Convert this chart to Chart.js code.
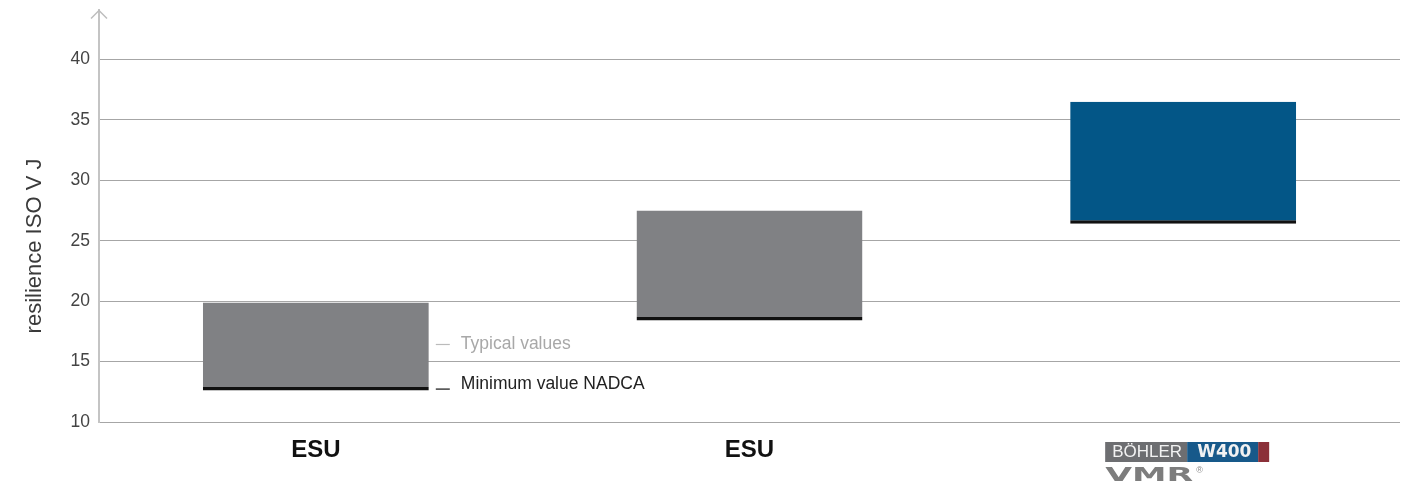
<!DOCTYPE html>
<html lang="en">

<head>
    <meta charset="UTF-8" />
    <title>Resilience ISO V</title>
    <script src="https://cdn.jsdelivr.net/npm/chart.js"></script>
    <style>
        html, body { margin: 0; padding: 0; background: #fff; overflow: hidden; }
        .chart-box { width: 1410px; height: 488px; position: absolute; left: 0; top: 0; }
    </style>
</head>

<body>
    <div class="chart-box">
        <canvas id="resilienceChart"></canvas>
    </div>

    <script>
        // Kerbschlagarbeit je Werkstoff: typischer Bereich, Unterkante = NADCA-Minimum
        const categories = ['ESU', 'ESU', 'BÖHLER W400 VMR'];
        const minValues = [12.6, 18.4, 26.4];
        const typicalTop = [19.9, 27.5, 36.5];
        const yTicks = [10, 15, 20, 25, 30, 35, 40];
        const barColors = ['#808184', '#808184', '#035687'];

        const yTitle = 'resilience ISO V J';
        const legendTypical = 'Typical values';
        const legendMin = 'Minimum value NADCA';

        const ranges = minValues.map((v, i) => [v, typicalTop[i]]);

        const FONT = '"Liberation Sans", Arial, sans-serif';

        // Pfeilspitze oben an der y-Achse + Achsentitel
        const axisDeco = {
            id: 'axisDeco',
            afterDraw(chart) {
                const { ctx, chartArea } = chart;
                const x = chartArea.left;
                const top = chartArea.top;
                ctx.save();
                ctx.strokeStyle = '#bdbdbd';
                ctx.lineWidth = 1.5;
                ctx.beginPath();
                ctx.moveTo(x - 8, top + 8.5);
                ctx.lineTo(x, top + 0.5);
                ctx.lineTo(x + 8, top + 8.5);
                ctx.stroke();

                ctx.translate(35, 246);
                ctx.rotate(-Math.PI / 2);
                ctx.fillStyle = '#3a3a3a';
                ctx.font = '22px ' + FONT;
                ctx.textAlign = 'center';
                ctx.textBaseline = 'middle';
                ctx.fillText(yTitle, 0, 0);
                ctx.restore();
            }
        };

        // Legende rechts neben dem ersten Balken
        const sideLegend = {
            id: 'sideLegend',
            afterDatasetsDraw(chart) {
                const bar = chart.getDatasetMeta(0).data[0];
                if (!bar) return;
                const { ctx } = chart;
                const right = bar.x + bar.width / 2;
                const mid = (bar.y + bar.base) / 2;
                const low = bar.base - 1.5;
                ctx.save();
                ctx.font = '17.5px ' + FONT;
                ctx.textBaseline = 'middle';
                ctx.lineWidth = 1.2;

                ctx.strokeStyle = '#bbbbbb';
                ctx.beginPath();
                ctx.moveTo(right + 7, mid - 2);
                ctx.lineTo(right + 21, mid - 2);
                ctx.stroke();
                ctx.fillStyle = '#a8a8a8';
                ctx.fillText(legendTypical, right + 32, mid - 2);

                ctx.strokeStyle = '#111';
                ctx.beginPath();
                ctx.moveTo(right + 7, low);
                ctx.lineTo(right + 21, low);
                ctx.stroke();
                ctx.fillStyle = '#222';
                ctx.fillText(legendMin, right + 32, low - 5);
                ctx.restore();
            }
        };

        // Logo BÖHLER W400 / VMR als dritte Kategorie
        const logoLabel = {
            id: 'logoLabel',
            afterDraw(chart) {
                const { ctx, scales } = chart;
                const cx = scales.x.getPixelForTick(2);
                const left = cx - 78;
                const top = 442;
                ctx.save();
                ctx.fillStyle = '#6d6e71';
                ctx.fillRect(left, top, 82, 20);
                ctx.fillStyle = '#17598a';
                ctx.fillRect(left + 82, top, 71, 20);
                ctx.fillStyle = '#8b3039';
                ctx.fillRect(left + 153, top, 11, 20);

                ctx.textBaseline = 'middle';
                ctx.fillStyle = '#f2f2f2';
                ctx.font = '17px ' + FONT;
                ctx.fillText('BÖHLER', left + 7, top + 10.5);
                ctx.font = 'bold 17px "DejaVu Sans", sans-serif';
                ctx.fillText('W400', left + 92, top + 10.5);

                // VMR breit gezogen
                ctx.textBaseline = 'alphabetic';
                ctx.font = 'bold 20px "DejaVu Sans", sans-serif';
                const w = ctx.measureText('VMR').width;
                ctx.save();
                ctx.translate(left, 481);
                ctx.scale(88 / w, 1);
                ctx.fillStyle = '#7d7d7d';
                ctx.fillText('VMR', 0, 0);
                ctx.restore();
                ctx.fillStyle = '#888';
                ctx.font = '9px ' + FONT;
                ctx.fillText('®', left + 91, top + 31);
                ctx.restore();
            }
        };

        new Chart(document.getElementById('resilienceChart'), {
            type: 'bar',
            data: {
                labels: categories,
                datasets: [{
                    label: legendTypical,
                    data: ranges,
                    backgroundColor: barColors,
                    borderColor: '#111',
                    borderWidth: { top: 0, left: 0, right: 0, bottom: 3.5 },
                    borderSkipped: false,
                    barPercentage: 0.521,
                    categoryPercentage: 1
                }]
            },
            options: {
                responsive: true,
                maintainAspectRatio: false,
                animation: false,
                layout: { padding: { top: 10, right: 10, left: 0, bottom: 0 } },
                plugins: {
                    legend: { display: false },
                    tooltip: { enabled: false }
                },
                scales: {
                    x: {
                        grid: { display: false, drawTicks: false },
                        border: { display: false },
                        ticks: {
                            padding: 14,
                            color: '#111',
                            font: { family: FONT, size: 24, weight: 'bold' },
                            callback: (v, i) => (i === 2 ? '' : categories[i])
                        },
                        afterFit: (scale) => { scale.height = 66; }
                    },
                    y: {
                        min: yTicks[0],
                        max: 44.1,
                        grid: { color: '#a6a6a6', lineWidth: 1, drawTicks: false },
                        border: { color: '#c4c4c4', width: 2 },
                        ticks: {
                            stepSize: 5,
                            includeBounds: false,
                            padding: 9,
                            color: '#444',
                            font: { family: FONT, size: 17.5 }
                        },
                        afterBuildTicks: (scale) => {
                            scale.ticks = yTicks.map(v => ({ value: v }));
                        },
                        afterFit: (scale) => {
                            scale.width = 99;
                            scale.paddingTop = 0;
                            scale.paddingBottom = 0;
                        }
                    }
                }
            },
            plugins: [axisDeco, sideLegend, logoLabel]
        });
    </script>
</body>

</html>
